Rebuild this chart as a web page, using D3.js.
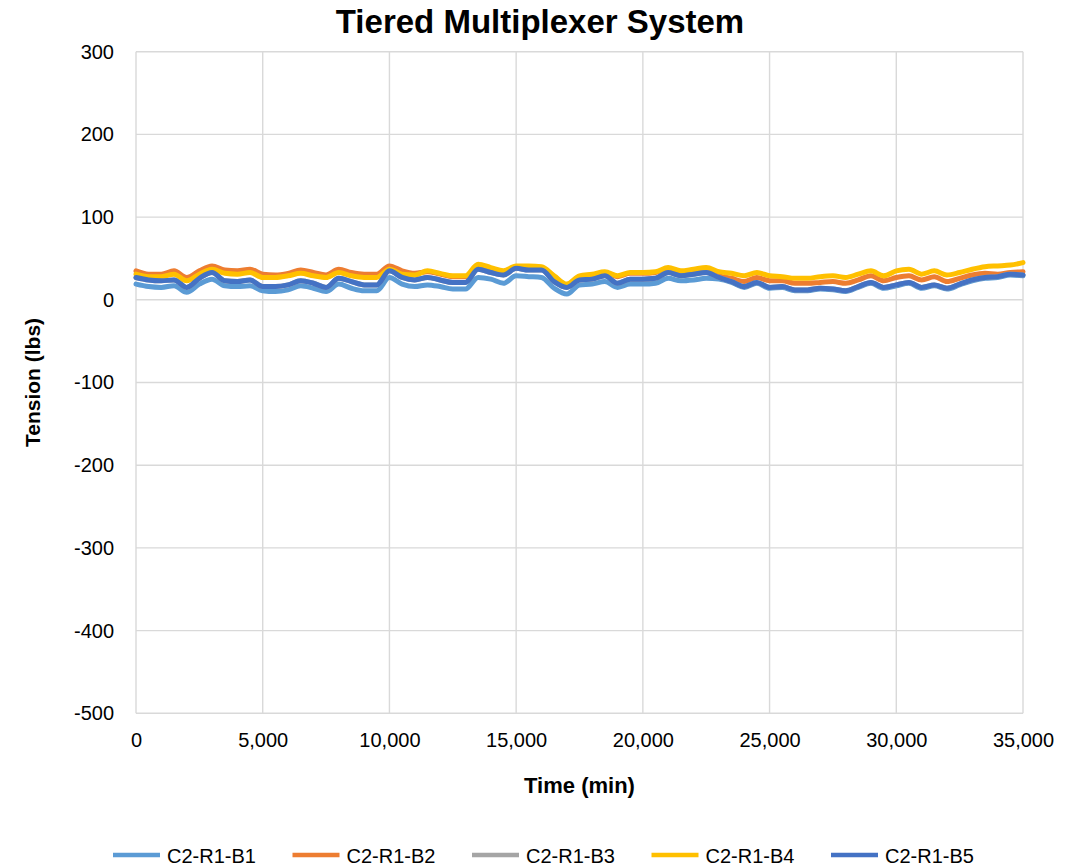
<!DOCTYPE html>
<html>
<head>
<meta charset="utf-8">
<script src="https://cdn.jsdelivr.net/npm/d3@7"></script>
<style>
  html, body { margin: 0; padding: 0; background: #ffffff; }
  svg { display: block; }
  text { font-family: "Liberation Sans", Arial, sans-serif; fill: #000; }
</style>
</head>
<body>
<svg id="chart" width="1081" height="867"></svg>
<script>
// Sample times (minutes)
const timeMin = [
  0, 500, 1000, 1500, 2000, 2500, 3000, 3500, 4000, 4500,
  5000, 5500, 6000, 6500, 7000, 7500, 8000, 8500, 9000, 9500,
  10000, 10500, 11000, 11500, 12000, 12500, 13000, 13500, 14000, 14500,
  15000, 15500, 16000, 16500, 17000, 17500, 18000, 18500, 19000, 19500,
  20000, 20500, 21000, 21500, 22000, 22500, 23000, 23500, 24000, 24500,
  25000, 25500, 26000, 26500, 27000, 27500, 28000, 28500, 29000, 29500,
  30000, 30500, 31000, 31500, 32000, 32500, 33000, 33500, 34000, 34500,
  35000
];

// Tension readings (lbs) per sensor
const b1 = [
  19, 16, 15, 17, 9, 19, 25, 17, 16, 17,
  11, 10, 12, 17, 14, 10, 19, 14, 11, 11,
  27, 19, 16, 18, 16, 13, 13, 27, 25, 20,
  29, 28, 27, 14, 7, 18, 19, 22, 15, 19,
  19, 20, 26, 23, 24, 26, 25, 21, 15, 20,
  14, 15, 11, 11, 13, 12, 10, 15, 20, 14,
  17, 20, 14, 17, 13, 18, 23, 26, 27, 30,
  29
];
const b2 = [
  35, 31, 31, 35, 27, 35, 41, 36, 35, 37,
  31, 30, 32, 36, 33, 30, 37, 33, 31, 31,
  41, 35, 32, 34, 31, 28, 28, 42, 38, 34,
  40, 40, 39, 28, 18, 28, 30, 33, 28, 32,
  32, 33, 38, 34, 36, 38, 29, 26, 22, 27,
  23, 23, 20, 20, 21, 22, 20, 24, 29, 23,
  27, 29, 24, 28, 22, 26, 30, 32, 31, 33,
  34
];
const b3 = [
  27, 24, 23, 24, 15, 26, 33, 23, 22, 24,
  16, 16, 18, 23, 20, 15, 26, 22, 18, 18,
  35, 27, 24, 27, 24, 21, 21, 37, 33, 30,
  38, 36, 36, 22, 15, 24, 25, 29, 20, 25,
  25, 26, 33, 29, 31, 33, 27, 22, 16, 21,
  15, 16, 12, 12, 14, 13, 11, 16, 21, 15,
  18, 21, 15, 18, 14, 19, 24, 27, 28, 31,
  30
];
const b4 = [
  31, 28, 28, 31, 23, 31, 37, 32, 31, 33,
  27, 27, 29, 32, 29, 27, 33, 29, 27, 27,
  37, 31, 30, 35, 32, 29, 29, 43, 39, 35,
  41, 41, 40, 29, 19, 29, 31, 34, 29, 33,
  33, 34, 39, 35, 37, 39, 34, 32, 29, 33,
  29, 28, 26, 26, 28, 29, 27, 31, 35, 29,
  35, 37, 31, 35, 30, 33, 37, 40, 41, 42,
  45
];
const b5 = [
  27, 24, 23, 24, 15, 26, 33, 23, 22, 24,
  16, 16, 18, 23, 20, 15, 26, 22, 18, 18,
  35, 27, 24, 27, 24, 21, 21, 37, 33, 30,
  38, 36, 36, 22, 15, 24, 25, 29, 20, 25,
  25, 26, 33, 29, 31, 33, 27, 22, 16, 21,
  15, 16, 12, 12, 14, 13, 11, 16, 21, 15,
  18, 21, 15, 18, 14, 19, 24, 27, 28, 31,
  30
];

const seriesNames = ["C2-R1-B1", "C2-R1-B2", "C2-R1-B3", "C2-R1-B4", "C2-R1-B5"];
const seriesValues = [b1, b2, b3, b4, b5];
const seriesColors = ["#5b9bd5", "#ed7d31", "#a5a5a5", "#ffc000", "#4472c4"];

const yTicks = [300, 200, 100, 0, -100, -200, -300, -400, -500];
const xTicks = [0, 5000, 10000, 15000, 20000, 25000, 30000, 35000];

const svg = d3.select("#chart");
const plot = { left: 136, right: 1023, top: 51.7, bottom: 713.3 };

const x = d3.scaleLinear().domain([0, 35000]).range([plot.left, plot.right]);
const y = d3.scaleLinear().domain([-500, 300]).range([plot.bottom, plot.top]);

// Gridlines
const grid = svg.append("g").attr("class", "grid");
grid.selectAll("line.h").data(yTicks).join("line")
  .attr("class", "h")
  .attr("x1", plot.left).attr("x2", plot.right)
  .attr("y1", d => y(d)).attr("y2", d => y(d))
  .attr("stroke", "#d9d9d9").attr("stroke-width", 1.4);
grid.selectAll("line.v").data(xTicks).join("line")
  .attr("class", "v")
  .attr("y1", plot.top).attr("y2", plot.bottom)
  .attr("x1", d => x(d)).attr("x2", d => x(d))
  .attr("stroke", "#d9d9d9").attr("stroke-width", 1.4);

// Axes (labels only, lines come from the grid)
const yAxis = d3.axisLeft(y).tickValues(yTicks).tickSize(0).tickPadding(22)
  .tickFormat(d => String(d));
svg.append("g").attr("transform", `translate(${plot.left},0)`).call(yAxis)
  .call(g => g.select(".domain").remove())
  .call(g => g.selectAll("text").attr("font-size", 20)
    .attr("font-family", "'Liberation Sans', Arial, sans-serif").attr("fill", "#000"));

const xAxis = d3.axisBottom(x).tickValues(xTicks).tickSize(0).tickPadding(20)
  .tickFormat(d3.format(","));
svg.append("g").attr("transform", `translate(0,${plot.bottom})`).call(xAxis)
  .call(g => g.select(".domain").remove())
  .call(g => g.selectAll("text").attr("font-size", 20)
    .attr("font-family", "'Liberation Sans', Arial, sans-serif").attr("fill", "#000"));

// Series lines
const line = d3.line()
  .x((d, i) => x(timeMin[i]))
  .y(d => y(d))
  .curve(d3.curveMonotoneX);

svg.append("g").selectAll("path").data(seriesValues).join("path")
  .attr("d", d => line(d))
  .attr("fill", "none")
  .attr("stroke", (d, i) => seriesColors[i])
  .attr("stroke-width", 5)
  .attr("stroke-linejoin", "round")
  .attr("stroke-linecap", "round");

// Title
svg.append("text")
  .attr("x", 540).attr("y", 33)
  .attr("text-anchor", "middle")
  .attr("font-size", 33).attr("font-weight", "bold")
  .text("Tiered Multiplexer System");

// Axis titles
svg.append("text")
  .attr("transform", `translate(40,${(plot.top + plot.bottom) / 2}) rotate(-90)`)
  .attr("text-anchor", "middle")
  .attr("font-size", 21).attr("font-weight", "bold")
  .text("Tension (lbs)");

svg.append("text")
  .attr("x", (plot.left + plot.right) / 2).attr("y", 793)
  .attr("text-anchor", "middle")
  .attr("font-size", 22).attr("font-weight", "bold")
  .text("Time (min)");

// Legend
const legend = svg.append("g").attr("transform", "translate(113,855)");
const item = legend.selectAll("g").data(seriesNames).join("g")
  .attr("transform", (d, i) => `translate(${i * 179.5},0)`);
item.append("line")
  .attr("x1", 0).attr("x2", 47).attr("y1", 0).attr("y2", 0)
  .attr("stroke", (d, i) => seriesColors[i]).attr("stroke-width", 4.5);
item.append("text")
  .attr("x", 54).attr("y", 7.5)
  .attr("font-size", 20)
  .text(d => d);
</script>
</body>
</html>
